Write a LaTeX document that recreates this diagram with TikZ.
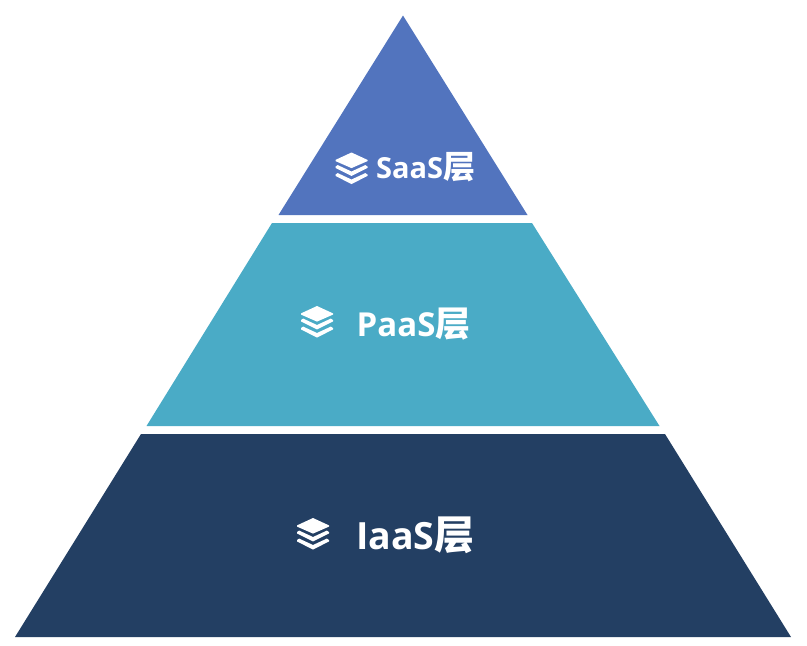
\documentclass[tikz,border=0pt]{standalone}
\usepackage{fontspec}
\setmainfont{Open Sans}
\newfontfamily\cjkf{Noto Sans CJK SC}
\definecolor{topc}{HTML}{5274BE}
\definecolor{midc}{HTML}{4AABC6}
\definecolor{botc}{HTML}{233F63}
\tikzset{
  tier/.style={fill=#1,draw=none},
  lab/.style={text=white,inner sep=0pt,anchor=base west}
}
\newcommand{\layersicon}[3]{%
 \begin{scope}[shift={(#1,#2)},scale=#3]
  \fill[white] (0,-16) -- (16,-8.6) -- (16,-7.4) -- (0,-0.4) -- (-16,-7.4) -- (-16,-8.6) -- cycle;
  \fill[white] (-16,-2) -- (-13.8,-3.4) -- (0,3) -- (13.8,-3.4) -- (16,-2) -- (16,-0.6) -- (0,7.4) -- (-16,-0.6) -- cycle;
  \fill[white] (-16,6) -- (-13.8,4.6) -- (0,11) -- (13.8,4.6) -- (16,6) -- (16,7.4) -- (0,15.6) -- (-16,7.4) -- cycle;
 \end{scope}}
\begin{document}
\begin{tikzpicture}[x=1pt,y=-1pt]
\useasboundingbox (0,0) rectangle (807,646);
\fill[tier=topc] (403,15.5) -- (527.5,215) -- (278.5,215) -- cycle;
\fill[tier=midc] (272,223) -- (532,223) -- (659.5,426) -- (146.5,426) -- cycle;
\fill[tier=botc] (141,434) -- (665,434) -- (791,637) -- (15,637) -- cycle;
\layersicon{351.5}{168.5}{1}
\layersicon{317}{322}{1}
\layersicon{313}{534}{1}
\node[lab,font=\bfseries\fontsize{29}{29}\selectfont] (saas) at (376,178) {SaaS{\cjkf\fontsize{32}{32}\selectfont 层}};
\node[lab,font=\bfseries\fontsize{33}{33}\selectfont] (paas) at (356.5,336) {PaaS{\cjkf\fontsize{35}{35}\selectfont 层}};
\node[lab,font=\bfseries\fontsize{37.5}{37.5}\selectfont] (iaas) at (356,549) {IaaS{\cjkf\fontsize{40}{40}\selectfont 层}};
\end{tikzpicture}
\end{document}
